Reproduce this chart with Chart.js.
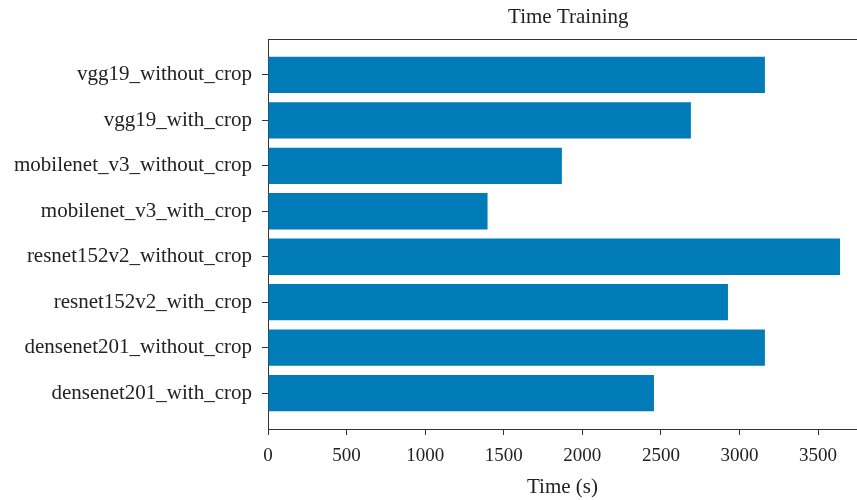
<!DOCTYPE html>
<html>
<head>
<meta charset="utf-8">
<script src="https://cdn.jsdelivr.net/npm/chart.js@4/dist/chart.umd.min.js"></script>
<style>
  html, body { margin: 0; padding: 0; background: #fff; overflow: hidden; }
</style>
</head>
<body>
<canvas id="timeChart" width="857" height="500"></canvas>
<script>
// 模型名称（从上到下）
const models = [
    'vgg19_without_crop',
    'vgg19_with_crop',
    'mobilenet_v3_without_crop',
    'mobilenet_v3_with_crop',
    'resnet152v2_without_crop',
    'resnet152v2_with_crop',
    'densenet201_without_crop',
    'densenet201_with_crop'
];
// 训练时间 (s)
const trainTimes = [3162, 2691, 1870, 1397, 3640, 2927, 3162, 2456];
const xTicks = [0, 500, 1000, 1500, 2000, 2500, 3000, 3500];

const textColor = '#222';
const axisColor = '#333';
const serif = "'Liberation Serif', 'DejaVu Serif', serif";

// 原图右侧被裁掉：完整坐标范围到 3822，可见部分只到 3748
const fullMax = 3822;
const visibleMax = 3748;

// 标题居中于完整绘图区（含被裁掉的部分），顺便画上边框
const titlePlugin = {
    id: 'croppedTitle',
    afterDraw: function(chart) {
        const area = chart.chartArea;
        const fullWidth = (area.right - area.left) * fullMax / visibleMax;
        const c = chart.ctx;
        c.save();
        c.strokeStyle = axisColor;
        c.lineWidth = 1;
        c.beginPath();
        c.moveTo(area.left, Math.round(area.top) + 0.5);
        c.lineTo(area.right + 1, Math.round(area.top) + 0.5);
        c.stroke();
        c.font = '21px ' + serif;
        c.fillStyle = textColor;
        c.textAlign = 'center';
        c.textBaseline = 'middle';
        c.fillText('Time Training', area.left + fullWidth / 2, 17);
        c.restore();
    }
};

document.addEventListener('DOMContentLoaded', function() {
    const ctx = document.getElementById('timeChart').getContext('2d');

    new Chart(ctx, {
        type: 'bar',
        data: {
            datasets: [{
                label: 'Time',
                data: models.map(function(m, i) { return { x: trainTimes[i], y: i }; }),
                backgroundColor: '#027cb9',
                borderWidth: 0,
                categoryPercentage: 0.8,
                barPercentage: 1.0
            }]
        },
        plugins: [titlePlugin],
        options: {
            indexAxis: 'y',
            responsive: false,
            animation: false,
            layout: { padding: { left: 0, top: 39, bottom: 0, right: 0 } },
            plugins: {
                legend: { display: false },
                tooltip: { enabled: false }
            },
            scales: {
                x: {
                    type: 'linear',
                    position: 'bottom',
                    min: 0,
                    max: visibleMax,
                    afterBuildTicks: function(axis) {
                        axis.ticks = xTicks.map(function(v) { return { value: v }; });
                    },
                    afterFit: function(axis) { axis.height = 71; },
                    grid: { drawOnChartArea: false, drawTicks: true, tickLength: 6, color: axisColor },
                    border: { display: true, color: axisColor, width: 1 },
                    ticks: {
                        color: textColor,
                        padding: 10,
                        font: { family: serif, size: 19 },
                        maxRotation: 0,
                        callback: function(value) { return String(value); }
                    },
                    title: {
                        display: true,
                        text: 'Time (s)',
                        color: textColor,
                        font: { family: serif, size: 21 },
                        padding: { top: 0, bottom: 0 }
                    }
                },
                y: {
                    type: 'linear',
                    reverse: true,
                    offset: false,
                    min: -0.79,
                    max: 7.79,
                    afterBuildTicks: function(axis) {
                        axis.ticks = models.map(function(m, i) { return { value: i }; });
                    },
                    afterFit: function(axis) { axis.width = 268; },
                    grid: { offset: false, drawOnChartArea: false, drawTicks: true, tickLength: 6, color: axisColor },
                    border: { display: true, color: axisColor, width: 1 },
                    ticks: {
                        color: textColor,
                        padding: 10,
                        font: { family: serif, size: 21 },
                        callback: function(value) { return models[value]; }
                    }
                }
            }
        }
    });
});
</script>
</body>
</html>
